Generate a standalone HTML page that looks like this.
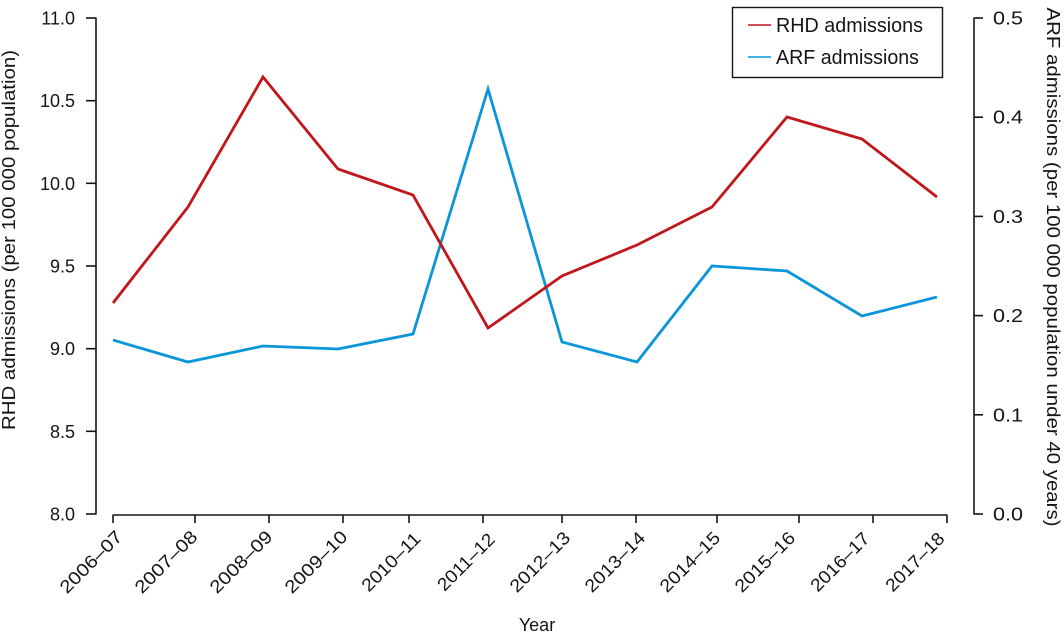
<!DOCTYPE html>
<html>
<head>
<meta charset="utf-8">
<style>
html,body{margin:0;padding:0;background:#fff;}
svg{display:block;}
text{font-family:"Liberation Sans",sans-serif;fill:#151515;}
</style>
</head>
<body>
<svg width="1064" height="633" viewBox="0 0 1064 633" xmlns="http://www.w3.org/2000/svg">
  <rect width="1064" height="633" fill="#fff"/>
  <g stroke="#151515" stroke-width="1.6" fill="none">
    <line x1="96" y1="17.5" x2="96" y2="514.5"/>
    <line x1="86" y1="18" x2="96" y2="18"/>
    <line x1="86" y1="100.7" x2="96" y2="100.7"/>
    <line x1="86" y1="183.3" x2="96" y2="183.3"/>
    <line x1="86" y1="266" x2="96" y2="266"/>
    <line x1="86" y1="348.7" x2="96" y2="348.7"/>
    <line x1="86" y1="431.3" x2="96" y2="431.3"/>
    <line x1="86" y1="514" x2="96" y2="514"/>
    <line x1="974" y1="17.5" x2="974" y2="514.5"/>
    <line x1="974" y1="18" x2="983" y2="18"/>
    <line x1="974" y1="117.2" x2="983" y2="117.2"/>
    <line x1="974" y1="216.4" x2="983" y2="216.4"/>
    <line x1="974" y1="315.6" x2="983" y2="315.6"/>
    <line x1="974" y1="414.8" x2="983" y2="414.8"/>
    <line x1="974" y1="514" x2="983" y2="514"/>
    <line x1="112.5" y1="515" x2="947.5" y2="515"/>
    <line x1="113" y1="515" x2="113" y2="523"/>
    <line x1="195" y1="515" x2="195" y2="523"/>
    <line x1="269" y1="515" x2="269" y2="523"/>
    <line x1="343" y1="515" x2="343" y2="523"/>
    <line x1="409" y1="515" x2="409" y2="523"/>
    <line x1="483" y1="515" x2="483" y2="523"/>
    <line x1="562" y1="515" x2="562" y2="523"/>
    <line x1="636" y1="515" x2="636" y2="523"/>
    <line x1="717" y1="515" x2="717" y2="523"/>
    <line x1="799" y1="515" x2="799" y2="523"/>
    <line x1="873" y1="515" x2="873" y2="523"/>
    <line x1="947" y1="515" x2="947" y2="523"/>
  </g>

  <g font-size="18" text-anchor="end">
    <text x="75" y="24.5">11.0</text>
    <text x="75" y="107.2">10.5</text>
    <text x="75" y="189.8">10.0</text>
    <text x="75" y="272.5">9.5</text>
    <text x="75" y="355.2">9.0</text>
    <text x="75" y="437.8">8.5</text>
    <text x="75" y="520.5">8.0</text>
  </g>
  <g font-size="18" text-anchor="start">
    <text x="993" y="24.5" textLength="30" lengthAdjust="spacingAndGlyphs">0.5</text>
    <text x="993" y="123.7" textLength="30" lengthAdjust="spacingAndGlyphs">0.4</text>
    <text x="993" y="222.9" textLength="30" lengthAdjust="spacingAndGlyphs">0.3</text>
    <text x="993" y="322.1" textLength="30" lengthAdjust="spacingAndGlyphs">0.2</text>
    <text x="993" y="421.3" textLength="30" lengthAdjust="spacingAndGlyphs">0.1</text>
    <text x="993" y="520.5" textLength="30" lengthAdjust="spacingAndGlyphs">0.0</text>
  </g>

  <g font-size="18" text-anchor="middle">
    <text transform="translate(91,562) rotate(-45)" y="6" textLength="80" lengthAdjust="spacingAndGlyphs">2006–07</text>
    <text transform="translate(166,562) rotate(-45)" y="6" textLength="80" lengthAdjust="spacingAndGlyphs">2007–08</text>
    <text transform="translate(241,562) rotate(-45)" y="6" textLength="80" lengthAdjust="spacingAndGlyphs">2008–09</text>
    <text transform="translate(316,562) rotate(-45)" y="6" textLength="80" lengthAdjust="spacingAndGlyphs">2009–10</text>
    <text transform="translate(391,562) rotate(-45)" y="6" textLength="75" lengthAdjust="spacingAndGlyphs">2010–11</text>
    <text transform="translate(466,562) rotate(-45)" y="6" textLength="73" lengthAdjust="spacingAndGlyphs">2011–12</text>
    <text transform="translate(540,562) rotate(-45)" y="6" textLength="77" lengthAdjust="spacingAndGlyphs">2012–13</text>
    <text transform="translate(615,562) rotate(-45)" y="6" textLength="77" lengthAdjust="spacingAndGlyphs">2013–14</text>
    <text transform="translate(690,562) rotate(-45)" y="6" textLength="77" lengthAdjust="spacingAndGlyphs">2014–15</text>
    <text transform="translate(765,562) rotate(-45)" y="6" textLength="77" lengthAdjust="spacingAndGlyphs">2015–16</text>
    <text transform="translate(840,562) rotate(-45)" y="6" textLength="75" lengthAdjust="spacingAndGlyphs">2016–17</text>
    <text transform="translate(915,562) rotate(-45)" y="6" textLength="75" lengthAdjust="spacingAndGlyphs">2017–18</text>
  </g>

  <text x="537" y="631" font-size="18" text-anchor="middle">Year</text>
  <text transform="translate(15,240) rotate(-90)" font-size="18" text-anchor="middle" textLength="380" lengthAdjust="spacingAndGlyphs">RHD admissions (per 100 000 population)</text>
  <text transform="translate(1047,267) rotate(90)" font-size="18" text-anchor="middle" textLength="519" lengthAdjust="spacingAndGlyphs">ARF admissions (per 100 000 population under 40 years)</text>

  <polyline fill="none" stroke="#0a96d8" stroke-width="2.8" stroke-linejoin="miter"
    points="113,340 188,362 263,346 338,349 413,334 488,89 562,342 637,362 712,266 787,271 862,316 937,297"/>
  <polyline fill="none" stroke="#c0161c" stroke-width="2.8" stroke-linejoin="miter"
    points="113,303 188,207 263,77 338,169 413,195 488,328 562,276 637,245 712,207 787,117 862,139 937,197"/>

  <rect x="732.5" y="7.5" width="210" height="70" fill="#fff" stroke="#151515" stroke-width="1.4"/>
  <line x1="748" y1="25" x2="771" y2="25" stroke="#c0161c" stroke-width="1.6"/>
  <line x1="748" y1="57" x2="771" y2="57" stroke="#0a96d8" stroke-width="1.6"/>
  <text x="776" y="32" font-size="20" textLength="147" lengthAdjust="spacingAndGlyphs">RHD admissions</text>
  <text x="776" y="64" font-size="20" textLength="143" lengthAdjust="spacingAndGlyphs">ARF admissions</text>
</svg>
</body>
</html>
